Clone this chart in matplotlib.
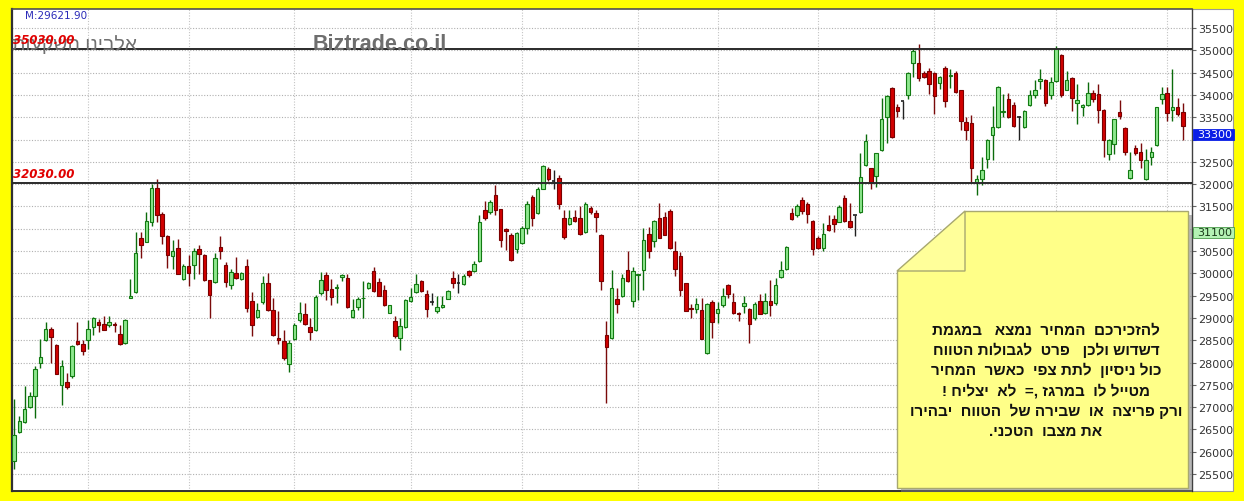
import numpy as np
import matplotlib
matplotlib.use('Agg')
import matplotlib.pyplot as plt
from matplotlib.patches import Polygon, Rectangle
from matplotlib.transforms import blended_transform_factory
from matplotlib.ticker import FuncFormatter

# ---------------- data ----------------
OPEN = [25790, 26440, 26670, 27000, 27260, 27990, 28500, 28750, 28400, 27490,
        27560, 27690, 28480, 28410, 28500, 28790, 28900, 28870, 28850, 28870,
        28630, 28430, 29450, 29580, 30790, 30710, 31160, 31920, 31330, 30830,
        30380, 30570, 29870, 30170, 30190, 30540, 30420, 29840, 29810, 30580,
        30190, 29740, 30000, 29870, 30160, 29370, 29010, 29350, 29780, 29180,
        28550, 28480, 27970, 28520, 28950, 29080, 28790, 28740, 29560, 29970,
        29650, 29680, 29910, 29890, 29010, 29240, 29440, 29670, 30060, 29800,
        29630, 29120, 28920, 28550, 28800, 29370, 29580, 29830, 29540, 29350,
        29150, 29240, 29430, 29890, 29780, 29760, 30060, 30060, 30280, 31420,
        31380, 31760, 31440, 30990, 30850, 30550, 30680, 31010, 31700, 31350,
        31900, 32340, 32060, 32130, 31250, 31100, 31270, 31230, 30920, 31460,
        31350, 30850, 28610, 28540, 29430, 29480, 30080, 29390, 29970, 30080,
        30880, 30730, 31230, 31270, 31400, 30500, 30380, 29780, 29220, 29190,
        29170, 28220, 29360, 29110, 29300, 29740, 29360, 29110, 29260, 29200,
        29000, 29390, 29100, 29390, 29330, 29910, 30100, 31350, 31310, 31640,
        31550, 31170, 30800, 30560, 31090, 31220, 31160, 31690, 31170, 31300,
        31380, 32420, 32350, 32180, 32760, 33510, 34160, 33720, 33860, 33990,
        34720, 34720, 34500, 34540, 34500, 34270, 34610, 34420, 34500, 34100,
        33400, 33370, 32020, 32110, 32570, 33100, 33280, 33620, 33900, 33770,
        33500, 33270, 33780, 33990, 34320, 34340, 33990, 34310, 34900, 34120,
        34370, 33820, 33730, 33770, 34050, 34010, 33670, 32670, 32910, 33620,
        33260, 32130, 32800, 32730, 32110, 32600, 32870, 33900, 34050, 33660,
        33720, 33620]
HIGH = [27190, 26800, 27480, 27330, 27920, 28530, 28900, 28790, 28420, 28050,
        27770, 28390, 28900, 28500, 28960, 29020, 28980, 29040, 29050, 28900,
        28830, 28980, 29870, 30920, 30930, 31370, 32000, 32120, 31370, 30850,
        30750, 30770, 30210, 30400, 30560, 30630, 30440, 29850, 30450, 30840,
        30250, 30100, 30360, 30030, 30320, 29590, 29340, 29930, 30000, 29450,
        29160, 28720, 28500, 28890, 29350, 29330, 29000, 29520, 30030, 30030,
        29880, 29760, 29990, 29990, 29430, 29460, 29820, 29800, 30150, 29900,
        29740, 29300, 29040, 29000, 29420, 29670, 29980, 29850, 29630, 29560,
        29500, 29500, 29620, 30060, 29980, 29980, 30080, 30270, 31310, 31610,
        31640, 31980, 31450, 31010, 30900, 30920, 31070, 31610, 31760, 31940,
        32430, 32390, 32310, 32200, 31420, 31420, 31420, 31520, 31590, 31500,
        31420, 30880, 28920, 30080, 29670, 29980, 30490, 30150, 29990, 31010,
        31030, 31200, 31570, 31370, 31440, 30730, 30470, 29790, 29310, 29450,
        29450, 29330, 29410, 29350, 29670, 29750, 29560, 29140, 29480, 29220,
        29350, 29540, 29560, 29860, 29890, 30280, 30620, 31470, 31550, 31720,
        31600, 31200, 30830, 31120, 31310, 31310, 31540, 31760, 31570, 31310,
        32700, 33130, 32370, 32700, 33920, 33990, 34180, 33790, 33870, 34510,
        35050, 35150, 34540, 34610, 34510, 34420, 34640, 34570, 34540, 34120,
        33510, 33550, 32200, 32610, 33010, 33750, 34210, 34020, 34050, 33840,
        33520, 33660, 34110, 34340, 34590, 34360, 34400, 35090, 34920, 34540,
        34400, 34250, 33800, 34290, 34110, 34250, 33690, 33010, 33460, 33880,
        33290, 32730, 32870, 32930, 32780, 32840, 33730, 34180, 34180, 34590,
        33920, 33810]
LOW = [25620, 26430, 26650, 26980, 26760, 27870, 28480, 28000, 27740, 27050,
       27400, 27650, 28400, 28170, 28300, 28620, 28680, 28720, 28790, 28680,
       28400, 28410, 29440, 29560, 30340, 30700, 31070, 31140, 30660, 30110,
       30100, 29980, 29850, 29710, 29870, 29990, 29830, 29000, 29780, 30320,
       29690, 29650, 29870, 29850, 29130, 28590, 28990, 29320, 29160, 28600,
       28420, 28060, 27780, 28500, 28900, 28840, 28500, 28700, 29520, 29410,
       29300, 29330, 29820, 29230, 28990, 29180, 29000, 29650, 29590, 29480,
       29260, 29100, 28560, 28290, 28780, 29350, 29560, 29580, 29020, 29280,
       29120, 29220, 29420, 29670, 29560, 29740, 29910, 30040, 30260, 31200,
       31320, 31310, 30580, 30530, 30270, 30450, 30660, 30880, 31060, 31330,
       31890, 32080, 31900, 31440, 30770, 31080, 31150, 30860, 30900, 31340,
       30920, 29630, 27100, 28520, 29100, 29470, 29800, 29240, 29410, 29630,
       30340, 30590, 30790, 30850, 30550, 29930, 29480, 29150, 29000, 29120,
       28520, 28200, 28550, 28890, 29250, 29450, 29080, 28920, 29100, 28430,
       28960, 29080, 29080, 29050, 29300, 29890, 30080, 31190, 31270, 31330,
       31120, 30410, 30540, 30490, 30950, 30930, 31140, 31160, 31010, 30830,
       31360, 32400, 31900, 31940, 32740, 32930, 33040, 33510, 33470, 33900,
       34400, 34310, 34380, 34010, 33570, 34140, 33720, 34150, 34040, 33210,
       33000, 32050, 31760, 31980, 32370, 32540, 33260, 33510, 33480, 33280,
       33000, 33250, 33740, 33940, 34140, 33750, 33900, 34290, 33950, 34100,
       33640, 33340, 33520, 33740, 33850, 33360, 32610, 32550, 32670, 33470,
       32650, 32110, 32660, 32350, 32100, 32430, 32850, 33800, 33420, 33420,
       33520, 33000]
CLOSE = [26370, 26680, 26960, 27260, 27860, 28120, 28750, 28570, 27750, 27920,
         27450, 28370, 28420, 28250, 28750, 29000, 28830, 28740, 28900, 28850,
         28410, 28950, 29500, 30450, 30640, 31180, 31920, 31310, 30830, 30410,
         30510, 29990, 30170, 30000, 30510, 30430, 29840, 29520, 30340, 30490,
         29800, 30040, 29890, 30010, 29220, 28850, 29170, 29780, 29180, 28610,
         28510, 28100, 28430, 28830, 29100, 28860, 28680, 29470, 29850, 29630,
         29470, 29700, 29970, 29240, 29170, 29430, 29450, 29780, 29600, 29500,
         29280, 29280, 28590, 28810, 29410, 29470, 29760, 29610, 29190, 29350,
         29240, 29300, 29610, 29780, 29780, 29950, 29970, 30210, 31160, 31230,
         31590, 31420, 30750, 30940, 30290, 30900, 31010, 31550, 31250, 31900,
         32410, 32110, 32060, 31550, 30820, 31230, 31170, 30880, 31550, 31370,
         31270, 29820, 28350, 29680, 29310, 29890, 29820, 30060, 29980, 30750,
         30500, 31170, 30800, 30860, 30560, 30100, 29630, 29160, 29190, 29310,
         28530, 29310, 28900, 29200, 29480, 29540, 29100, 29090, 29330, 28870,
         29310, 29090, 29390, 29300, 29740, 30080, 30580, 31210, 31520, 31400,
         31320, 30550, 30560, 30880, 30970, 31100, 31490, 31170, 31030, 31300,
         32170, 32970, 32020, 32690, 33470, 33970, 33050, 33640, 33860, 34490,
         34980, 34370, 34400, 34240, 33970, 34400, 33870, 34450, 34070, 33410,
         33210, 32350, 32110, 32310, 32990, 33280, 34180, 33640, 33510, 33300,
         33500, 33640, 33990, 34110, 34350, 33810, 34290, 35040, 33990, 34330,
         33920, 33880, 33780, 34050, 33900, 33670, 33000, 33000, 33450, 33520,
         32730, 32310, 32700, 32550, 32550, 32720, 33720, 34030, 33600, 33720,
         33570, 33300]

Y_TICKS = list(range(25500, 36000, 500))
HIDDEN_TICK_LABELS = [31000, 33000]      # covered by the price boxes
MONTH_STARTS = [14, 33, 53, 75, 96, 118, 133, 152, 174, 197, 218]
LEVELS = [35030, 32030]
LEVEL_LABELS = ['35030.00', '32030.00']
LAST_PRICE = 33300
MARKER_PRICE = 31100
TOP_LABEL = 'M:29621.90'
WATERMARK_HE = 'אלבינו השקעות'
WATERMARK_EN = 'Biztrade.co.il'
NOTE_LINES = [
    'להזכירכם  המחיר  נמצא   במגמת',
    'דשדוש ולכן   פרט  לגבולות הטווח',
    'כול ניסיון  לתת צפי  כאשר  המחיר',
    'מטייל לו  במרגז ,=  לא  יצליח !',
    'ורק פריצה  או  שבירה של  הטווח  יבהירו',
    'את מצבו  הטכני.',
]


def rtl(s):
    """Visual (left-to-right) order for a right-to-left line."""
    return s[::-1]


HEB_FONT = ['Liberation Sans', 'DejaVu Sans']

W, H = 1244, 502
fig = plt.figure(figsize=(W / 100, H / 100), dpi=100)
fig.patch.set_facecolor('#FFFF00')

# white panel incl. price-scale area
fig.add_artist(Rectangle((11 / W, 1 - 492 / H), (1233 - 11) / W, 482 / H,
                         transform=fig.transFigure, facecolor='white',
                         edgecolor='#9a9a9a', lw=0.8, zorder=-5))

ax = fig.add_axes([12 / W, 1 - 492 / H, 1180 / W, 482 / H])
ax.set_facecolor('white')
n = len(OPEN)
idx = np.arange(n)
ax.set_xlim(-0.38, 222.7)
ax.set_ylim(25119, 35926)

o = np.array(OPEN, float)
h = np.array(HIGH, float)
l = np.array(LOW, float)
c = np.array(CLOSE, float)
up = c > o
dn = c < o
eq = c == o

wick_cols = np.where(up, '#0b6b0b', np.where(dn, '#7a0a0a', '#202020'))
ax.vlines(idx, l, h, colors=list(wick_cols), lw=1.0, zorder=2)

bw = 0.66
body_b = np.minimum(o, c)
body_h = np.maximum(np.abs(c - o), 12)
ax.bar(idx[up], body_h[up], bottom=body_b[up], width=bw, color='#8ee88e',
       edgecolor='#127a12', lw=0.8, zorder=3)
ax.bar(idx[dn], body_h[dn], bottom=body_b[dn], width=bw, color='#d20000',
       edgecolor='#7a0000', lw=0.8, zorder=3)
ax.hlines(o[eq], idx[eq] - bw / 2, idx[eq] + bw / 2, colors='#202020', lw=1.2, zorder=3)

# level lines
for lv in LEVELS:
    ax.axhline(lv, color='#2a2a2a', lw=1.4, zorder=4)

# grid
ax.set_yticks(Y_TICKS)
ax.yaxis.set_major_formatter(FuncFormatter(
    lambda v, p: '' if int(round(v)) in HIDDEN_TICK_LABELS else f'{int(round(v))}'))
ax.set_xticks(MONTH_STARTS)
ax.tick_params(axis='x', length=0, labelbottom=False)
ax.yaxis.tick_right()
ax.tick_params(axis='y', length=3, width=0.8, color='#666666', labelsize=8,
               labelcolor='#333333', pad=1.5)
ax.grid(True, axis='y', linestyle=(0, (1, 1.5)), color='#b0b0b0', lw=0.8, zorder=0)
ax.grid(True, axis='x', linestyle=(0, (1, 1.5)), color='#c4c4c4', lw=0.8, zorder=0)
ax.set_axisbelow(True)
for side, col, lw in [('left', '#303030', 1.6), ('top', '#505050', 1.2),
                      ('bottom', '#303030', 1.4), ('right', '#404040', 1.0)]:
    ax.spines[side].set_color(col)
    ax.spines[side].set_linewidth(lw)

# price boxes on the scale
bt = blended_transform_factory(ax.transAxes, ax.transData)
unit = (35926 - 25119) / 482.0
for price, fc, ec, tc in [(LAST_PRICE, '#0a1ee6', '#0a1ee6', 'white'),
                          (MARKER_PRICE, '#b4f2b4', '#4a9a4a', '#1a3a1a')]:
    top = price - 2.5 * unit
    ax.add_patch(Rectangle((1.0008, top - 11 * unit), 0.0345, 11 * unit,
                           transform=bt, facecolor=fc, edgecolor=ec, lw=0.6,
                           clip_on=False, zorder=8))
    ax.text(1.004, top - 5.5 * unit, str(price), transform=bt, color=tc,
            fontsize=8, va='center', ha='left', zorder=9, clip_on=False)

# ---------------- overlay in pixel coordinates ----------------
ov = fig.add_axes([0, 0, 1, 1], zorder=5)
ov.set_xlim(0, W)
ov.set_ylim(H, 0)
ov.axis('off')
ov.patch.set_alpha(0)

ov.text(25, 16, TOP_LABEL, color='#2a2ab8', fontsize=7.5, va='center', ha='left')
ov.text(137, 45, rtl(WATERMARK_HE), color='#707070', fontsize=14, va='center',
        ha='right', family=HEB_FONT, zorder=1)
ov.text(313, 45, WATERMARK_EN, color='#6e6e6e', fontsize=15.5, fontweight='bold',
        va='center', ha='left', family=['Liberation Sans', 'DejaVu Sans'])
for lbl, ypix in zip(LEVEL_LABELS, [41, 175]):
    ov.text(13, ypix, lbl, color='#e00000', fontsize=8.5, fontstyle='italic',
            fontweight='bold', va='center', ha='left', zorder=3)

# sticky note
bx0, bx1, by0, by1 = 897, 1188, 212, 489
fold_x, fold_y = 965, 272
note = [(fold_x, by0), (bx1, by0), (bx1, by1), (bx0, by1), (bx0, fold_y)]
shadow = [(x + 4, y + 4) for x, y in note]
ov.add_patch(Polygon(shadow, closed=True, facecolor='#7a7a7a', edgecolor='none',
                     alpha=0.55, zorder=1))
ov.add_patch(Polygon(note, closed=True, facecolor='#ffff88', edgecolor='#a8a870',
                     lw=1.0, zorder=2))
ov.add_patch(Polygon([(bx0, fold_y), (fold_x, by0), (fold_x, fold_y)], closed=True,
                     facecolor='#ffff9a', edgecolor='#a8a870', lw=1.0, zorder=3))
line_y0, line_dy = 330, 20.4
for i, line in enumerate(NOTE_LINES):
    ov.text(1046, line_y0 + i * line_dy, rtl(line), fontsize=11, fontweight='bold',
            color='#111111', ha='center', va='center', family=HEB_FONT, zorder=4)

fig.savefig('out.png', dpi=100, facecolor=fig.get_facecolor())
